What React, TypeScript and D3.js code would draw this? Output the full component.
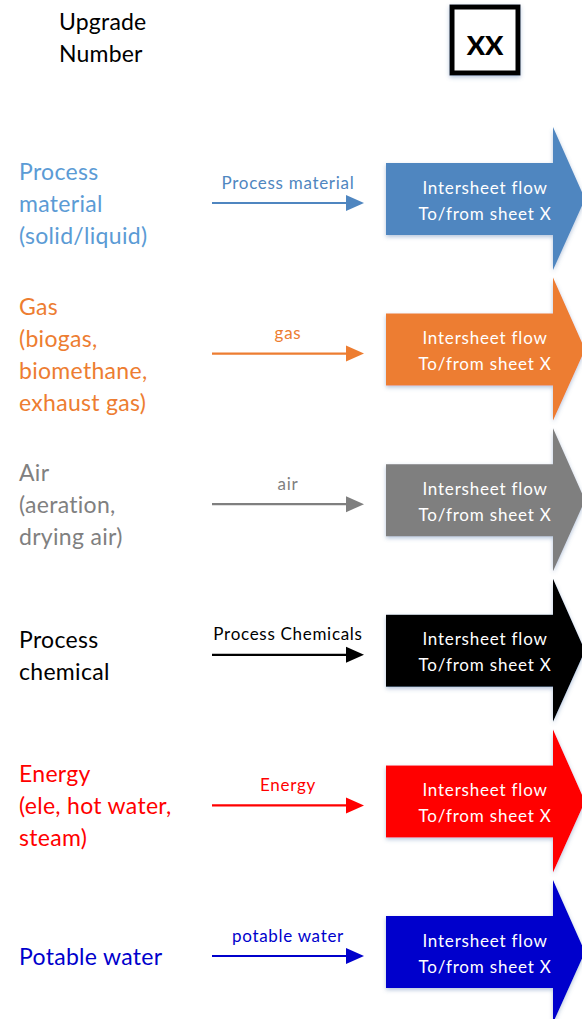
import React from 'react';
import * as d3 from 'd3';

// legend rows, top to bottom
const categories = ['material', 'gas', 'air', 'chemical', 'energy', 'water'];
const leftLabels = [
  ['Process', 'material', '(solid/liquid)'],
  ['Gas', '(biogas,', 'biomethane,', 'exhaust gas)'],
  ['Air', '(aeration,', 'drying air)'],
  ['Process', 'chemical'],
  ['Energy', '(ele, hot water,', 'steam)'],
  ['Potable water'],
];
const flowLabels = ['Process material', 'gas', 'air', 'Process Chemicals', 'Energy', 'potable water'];
const textColors = ['#5b9bd5', '#ed7d31', '#808080', '#000000', '#ff0000', '#0000cc'];
const fillColors = ['#4f86c0', '#ed7d31', '#7f7f7f', '#000000', '#ff0000', '#0000cc'];
const arrowText = ['Intersheet flow', 'To/from sheet X'];

const W = 582;
const H = 1019;
const FONT = 'Lato, "Open Sans", sans-serif';

const App = () => {
  const y = d3.scalePoint<string>().domain(categories).range([199, 952]);
  const lineH = 32;

  return (
    <svg width={W} height={H} style={{ position: 'absolute', left: 0, top: 0 }} fontFamily={FONT}>
      <defs>
        <filter id="sh" x="-20%" y="-20%" width="140%" height="140%">
          <feDropShadow dx="0" dy="2" stdDeviation="2" floodColor="#5b7fb0" floodOpacity="0.45" />
        </filter>
      </defs>

      {/* header */}
      <text x={59} y={21} fontSize={23} letterSpacing={0.2} dominantBaseline="central" fill="#000">Upgrade</text>
      <text x={59} y={53} fontSize={23} letterSpacing={0.2} dominantBaseline="central" fill="#000">Number</text>
      <rect x={452} y={7} width={66} height={66} fill="#fff" stroke="#000" strokeWidth={5} filter="url(#sh)" />
      <text x={485} y={44} fontSize={27} fontWeight={900} textAnchor="middle" dominantBaseline="central" fill="#000">XX</text>

      {categories.map((c, i) => {
        const cy = y(c) as number;
        const lines = leftLabels[i];
        const top = cy + 4 - ((lines.length - 1) * lineH) / 2;
        const ly = cy + 4;
        const path = d3.path();
        path.moveTo(386, cy - 36);
        path.lineTo(553, cy - 36);
        path.lineTo(553, cy - 72);
        path.lineTo(585, cy);
        path.lineTo(553, cy + 71);
        path.lineTo(553, cy + 36);
        path.lineTo(386, cy + 36);
        path.closePath();
        return (
          <g key={c}>
            {lines.map((t, j) => (
              <text key={j} x={19} y={top + j * lineH} fontSize={23} letterSpacing={0.3} dominantBaseline="central" fill={textColors[i]}>{t}</text>
            ))}
            <line x1={212} x2={348} y1={ly} y2={ly} stroke={fillColors[i]} strokeWidth={2.2} />
            <path d={`M346,${ly - 8}L364,${ly}L346,${ly + 8}Z`} fill={fillColors[i]} />
            <text x={288} y={ly - 21} fontSize={17} letterSpacing={0.7} textAnchor="middle" dominantBaseline="central" fill={i === 3 ? '#000' : fillColors[i]}>{flowLabels[i]}</text>
            <path d={path.toString()} fill={fillColors[i]} filter="url(#sh)" />
            {arrowText.map((t, j) => (
              <text key={j} x={485} y={cy - 12 + j * 26} fontSize={17} letterSpacing={0.8} textAnchor="middle" dominantBaseline="central" fill="#fff">{t}</text>
            ))}
          </g>
        );
      })}
    </svg>
  );
};

export default App;
